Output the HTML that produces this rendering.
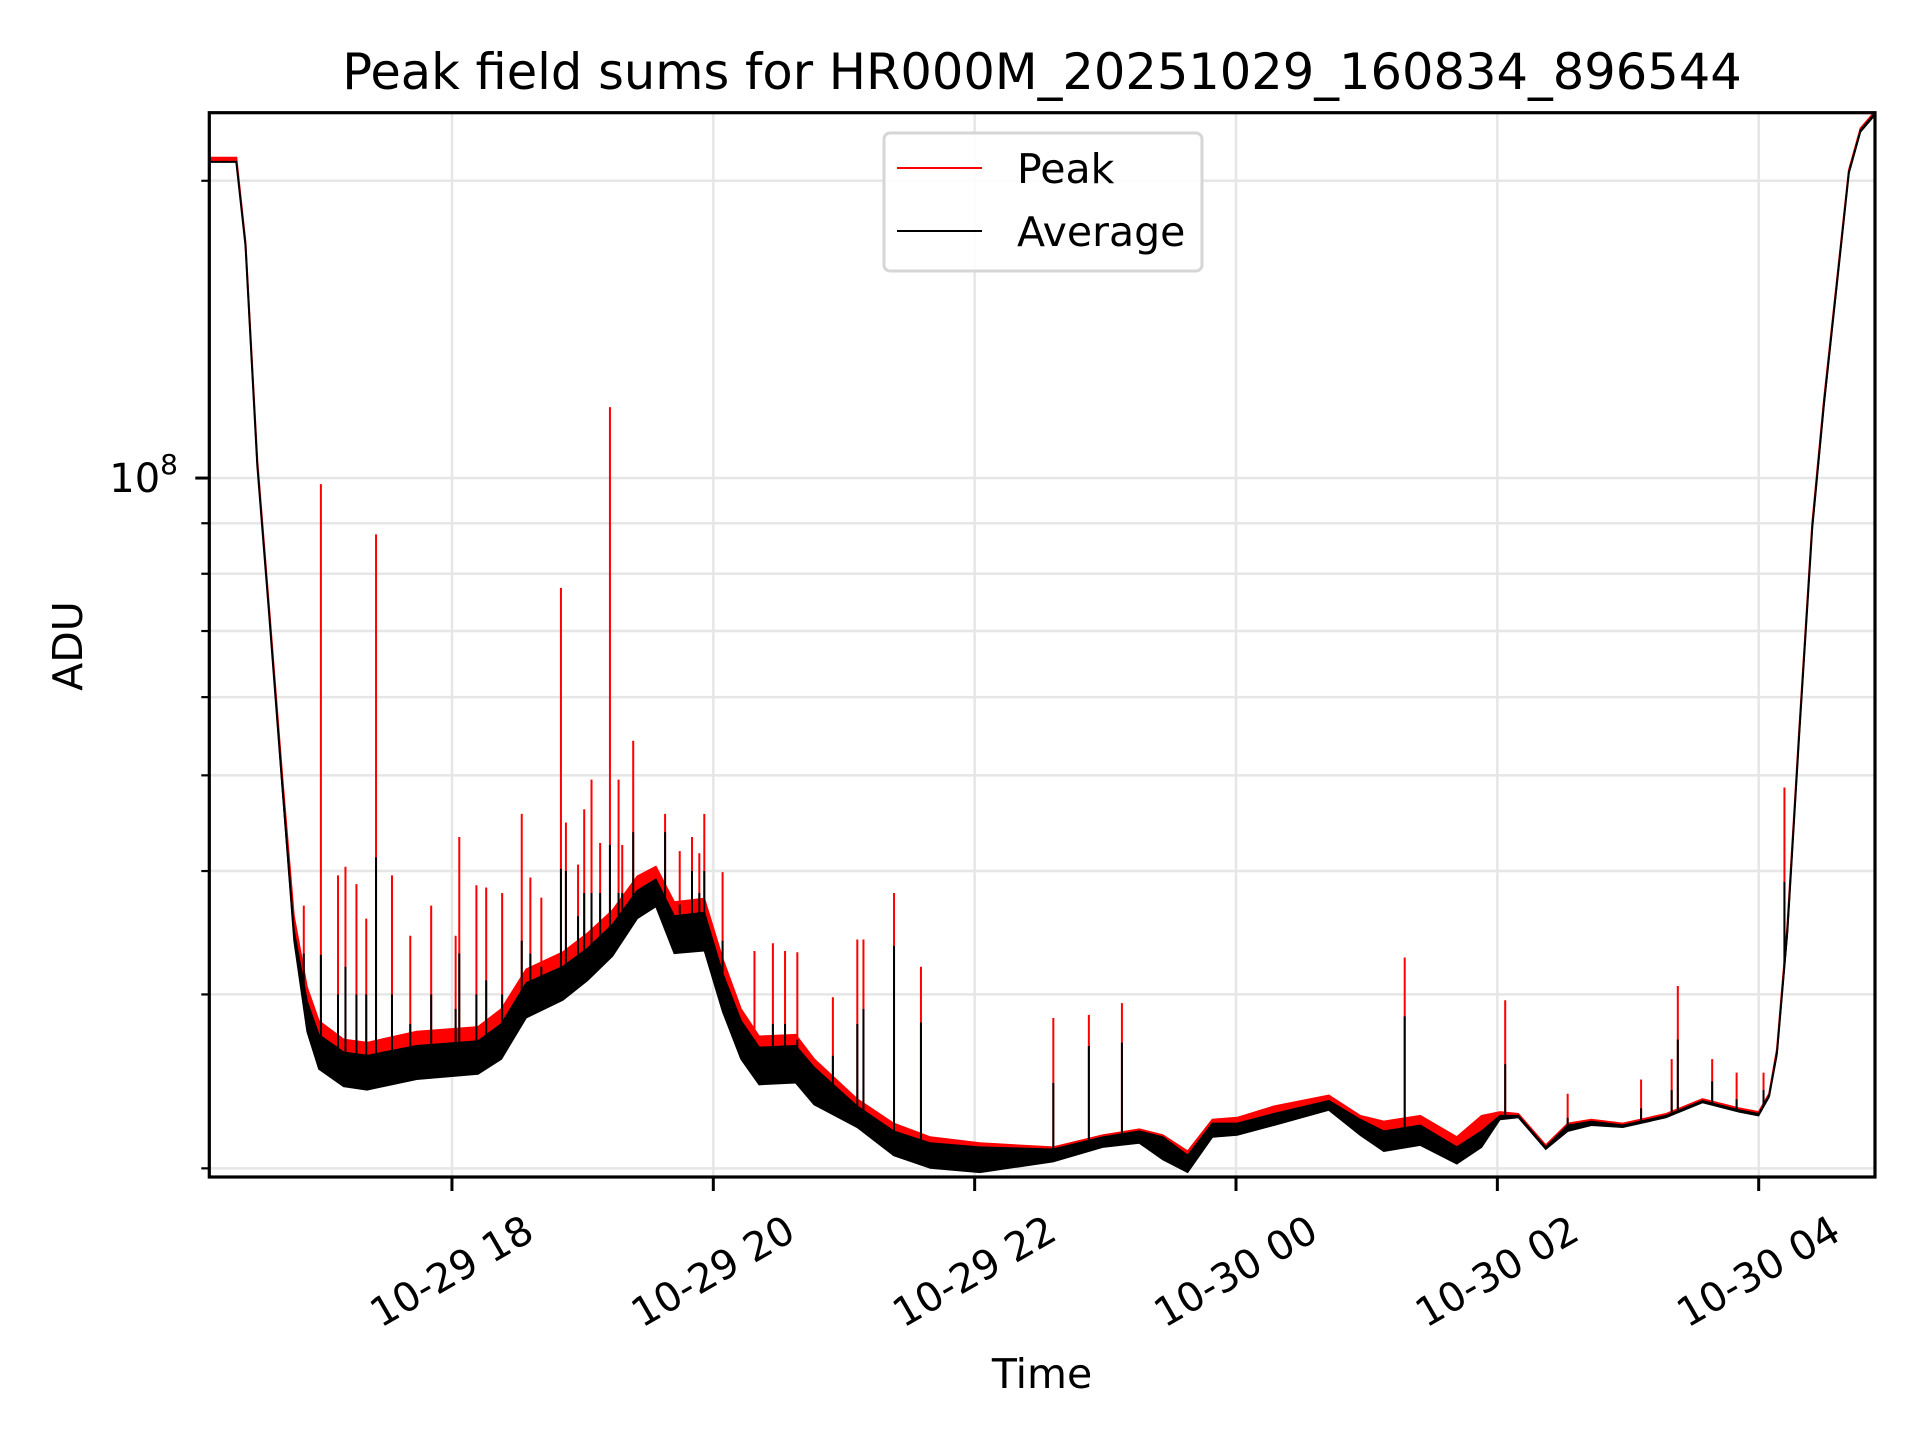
<!DOCTYPE html>
<html><head><meta charset="utf-8"><style>
html,body{margin:0;padding:0;background:#fff}
svg{display:block}
text{font-family:"DejaVu Sans","Liberation Sans",sans-serif;fill:#000}
</style></head><body>
<svg id="chart" width="1920" height="1440" viewBox="0 0 1920 1440" xmlns="http://www.w3.org/2000/svg">
<rect x="0" y="0" width="1920" height="1440" fill="#fff"/>
<g id="grid"></g>
<g id="series"></g>
<rect x="209.3" y="112.7" width="1665.7" height="1064.3" fill="none" stroke="#000" stroke-width="3.2"/>
<g id="ticks"></g>
<text x="1042" y="89" font-size="49.5" text-anchor="middle">Peak field sums for HR000M_20251029_160834_896544</text>
<text x="1042" y="1388" font-size="41" text-anchor="middle">Time</text>
<text x="0" y="0" font-size="41" text-anchor="middle" transform="translate(82,646) rotate(-90)">ADU</text>
<g>
<rect x="884" y="133" width="318" height="138" rx="6" fill="#fff" fill-opacity="0.85" stroke="#d6d6d6" stroke-width="3"/>
<line x1="897" y1="168" x2="982" y2="168" stroke="#f00" stroke-width="2"/>
<text x="1017" y="183" font-size="41">Peak</text>
<line x1="897" y1="231" x2="982" y2="231" stroke="#000" stroke-width="2"/>
<text x="1017" y="246" font-size="41">Average</text>
</g>
</svg>
<script>
// time in hours since 2025-10-29 00:00; values in ADU (millions)
const times = [16.14,16.35,16.42,16.51,16.60,16.70,16.79,16.89,16.98,17.17,17.35,17.73,18.20,18.38,18.57,18.85,19.04,19.23,19.42,19.56,19.70,19.93,20.07,20.21,20.35,20.63,20.77,21.10,21.38,21.66,22.04,22.60,22.98,23.26,23.44,23.63,23.82,24.01,24.29,24.71,24.95,25.13,25.41,25.69,25.88,26.02,26.16,26.37,26.54,26.72,26.96,27.29,27.57,27.85,28.00,28.08,28.14,28.22,28.31,28.41,28.50,28.60,28.69,28.78,28.89];
const averageVals = [209,209,172,103,73.1,49.1,34.8,29.5,27.3,26.2,26.0,26.6,26.9,28.0,30.8,32.0,33.4,35.3,38.2,39.2,36.0,36.3,31.5,28.2,26.5,26.6,25.3,23.1,21.8,21.2,21.0,20.9,21.5,21.8,21.5,20.6,22.2,22.2,22.7,23.4,22.4,21.8,22.1,21.0,21.8,22.6,22.6,21.0,22.1,22.3,22.1,22.6,23.4,22.9,22.7,23.7,26.2,34.8,55,89.2,119,158,204,225,234];
const peakVals = [211,211,173,104,74,50,36,30.5,28.2,27.0,26.8,27.5,27.8,29.0,31.8,33.1,34.6,36.5,39.5,40.4,37.2,37.5,32.6,29.0,27.2,27.3,25.8,23.5,22.2,21.5,21.2,21.0,21.6,21.9,21.6,20.8,22.4,22.5,23.1,23.7,22.6,22.3,22.6,21.5,22.6,22.8,22.7,21.1,22.2,22.4,22.2,22.7,23.5,23.0,22.8,23.8,26.4,35.2,55.5,90,120,159,205,226,235];
const averageLowVals = [209,209,172,103,73,48.5,34,27.5,25.2,24.2,24.0,24.6,24.9,25.8,28.4,29.6,31.0,32.8,35.8,36.8,33.0,33.2,28.8,25.8,24.3,24.4,23.2,22.0,20.6,20.0,19.8,20.3,21.0,21.2,20.4,19.8,21.5,21.6,22.1,22.9,21.6,20.8,21.1,20.2,21.0,22.4,22.5,20.9,21.8,22.1,22.0,22.5,23.3,22.8,22.6,23.6,26.0,34.4,54.5,88.5,118,157,203,224,233];
const spikeTimes = [16.997,17.419,18.834,19.209,19.387,19.068,18.534,18.056,19.275,19.631,19.837,19.931,20.071,17.541,17.841,21.383,21.589,21.102,22.602,22.874,23.127,25.291,26.06,27.381,28.197,16.866,17.128,17.185,17.269,17.344,17.681,18.028,18.187,18.262,18.384,18.6,18.684,18.872,18.965,19.012,19.134,19.303,19.743,19.893,20.315,20.456,20.549,20.643,20.915,21.149,26.538,27.1,27.334,27.644,27.831,28.037];
const spikePeakVals = [98.6,87.7,77.4,118,54.2,49.5,45.7,43.3,49.5,45.7,43.3,45.7,39.9,39.6,36.9,38.0,32.0,34.1,28.4,28.6,29.4,32.7,29.6,30.6,48.6,36.9,39.6,40.4,38.8,35.8,34.4,34.4,38.7,38.5,38.0,39.4,37.6,44.8,40.6,46.2,42.7,42.5,41.9,41.7,33.2,33.8,33.2,33.1,29.8,34.1,23.8,24.6,25.8,25.8,25.0,25.0];
const spikeAvgVals = [32.9,41.3,40.2,42.5,43.8,38,34,33,38,43.8,40,40,34,30,30,33.6,28.1,28,24.4,26.6,26.8,28.5,25.5,27.0,39.0,33,30,32,30,30,28,29,30,31,30,33,32,40,36,38,38,38,37,38,27,28,28,27,26,29,22.5,23,24,24.5,23.5,24];
const xTickHours = [18,20,22,24,26,28];
const xTickLabels = ["10-29 18","10-29 20","10-29 22","10-30 00","10-30 02","10-30 04"];
const yMinorTicks = [20,30,40,50,60,70,80,90,200];
const yMajorTicks = [100];

const NS='http://www.w3.org/2000/svg';
const L=209.3,R=1875,T=112.7,B=1177;
const X0=16.143,X1=28.89;
const Y0=Math.log10(19.6),Y1=Math.log10(234.4);
const xs=h=>L+(h-X0)/(X1-X0)*(R-L);
const ys=v=>B-(Math.log10(v)-Y0)/(Y1-Y0)*(B-T);
function mk(tag,attrs,parent){const e=document.createElementNS(NS,tag);for(const k in attrs)e.setAttribute(k,attrs[k]);parent.appendChild(e);return e;}
const grid=document.getElementById('grid'),series=document.getElementById('series'),ticks=document.getElementById('ticks');

xTickHours.forEach((h,i)=>{
  const x=xs(h);
  const g=mk('line',{x1:x,y1:T,x2:x,y2:B,stroke:'#e6e6e6','stroke-width':2.5},grid);
  
  
  const t=mk('line',{x1:x,y1:B,x2:x,y2:B+14,stroke:'#000','stroke-width':3},ticks);
  
  
  const lb=mk('text',{x:0,y:0,'font-size':40,'text-anchor':'middle','dominant-baseline':'central',transform:`translate(${x},${1272}) rotate(-30)`},ticks);
  lb.textContent=xTickLabels[i];
  
  
});
yMinorTicks.concat(yMajorTicks).forEach(v=>{
  const y=ys(v);const major=yMajorTicks.includes(v);
  const g=mk('line',{x1:L,y1:y,x2:R,y2:y,stroke:'#e6e6e6','stroke-width':2.5},grid);
  
  
  const t=mk('line',{x1:L-(major?14:8),y1:y,x2:L,y2:y,stroke:'#000','stroke-width':major?3:2.2},ticks);
  
  
});
const yl=mk('text',{x:178,y:ys(100)+14,'font-size':40,'text-anchor':'end'},ticks);


yl.innerHTML='10<tspan dy="-18" font-size="28">8</tspan>';

const cp=mk('clipPath',{id:'clip'},series);
mk('rect',{x:L,y:T,width:R-L,height:B-T},cp);
const cg=mk('g',{'clip-path':'url(#clip)'},series);
function band(up,down){let d='';times.forEach((t,i)=>{d+=(i?'L':'M')+xs(t).toFixed(1)+','+ys(up[i]).toFixed(1);});for(let i=times.length-1;i>=0;i--)d+='L'+xs(times[i]).toFixed(1)+','+ys(down[i]).toFixed(1);return d+'Z';}
function line(arr){return times.map((t,i)=>(i?'L':'M')+xs(t).toFixed(1)+','+ys(arr[i]).toFixed(1)).join('');}
const pb=mk('path',{d:band(peakVals,averageVals),fill:'#f00',stroke:'#f00','stroke-width':1},cg);


const pl=mk('path',{d:line(peakVals),fill:'none',stroke:'#f00','stroke-width':2},cg);


function avgAt(h){for(let i=1;i<times.length;i++){if(h<=times[i]){const f=(h-times[i-1])/(times[i]-times[i-1]);return Math.pow(10,Math.log10(averageVals[i-1])*(1-f)+Math.log10(averageVals[i])*f);}}return averageVals[averageVals.length-1];}
spikeTimes.forEach((h,i)=>{
  const x=xs(h),b=ys(avgAt(h));
  const s=mk('line',{x1:x,y1:b,x2:x,y2:ys(spikePeakVals[i]),stroke:'#f00','stroke-width':2},cg);
  
  
});
const ab=mk('path',{d:band(averageVals,averageLowVals),fill:'#000',stroke:'#000','stroke-width':1},cg);


const al=mk('path',{d:line(averageVals),fill:'none',stroke:'#000','stroke-width':2},cg);


spikeTimes.forEach((h,i)=>{
  const x=xs(h),b=ys(avgAt(h));
  const s=mk('line',{x1:x,y1:b,x2:x,y2:ys(spikeAvgVals[i]),stroke:'#000','stroke-width':2},cg);
  
  
});
</script>
</body></html>
